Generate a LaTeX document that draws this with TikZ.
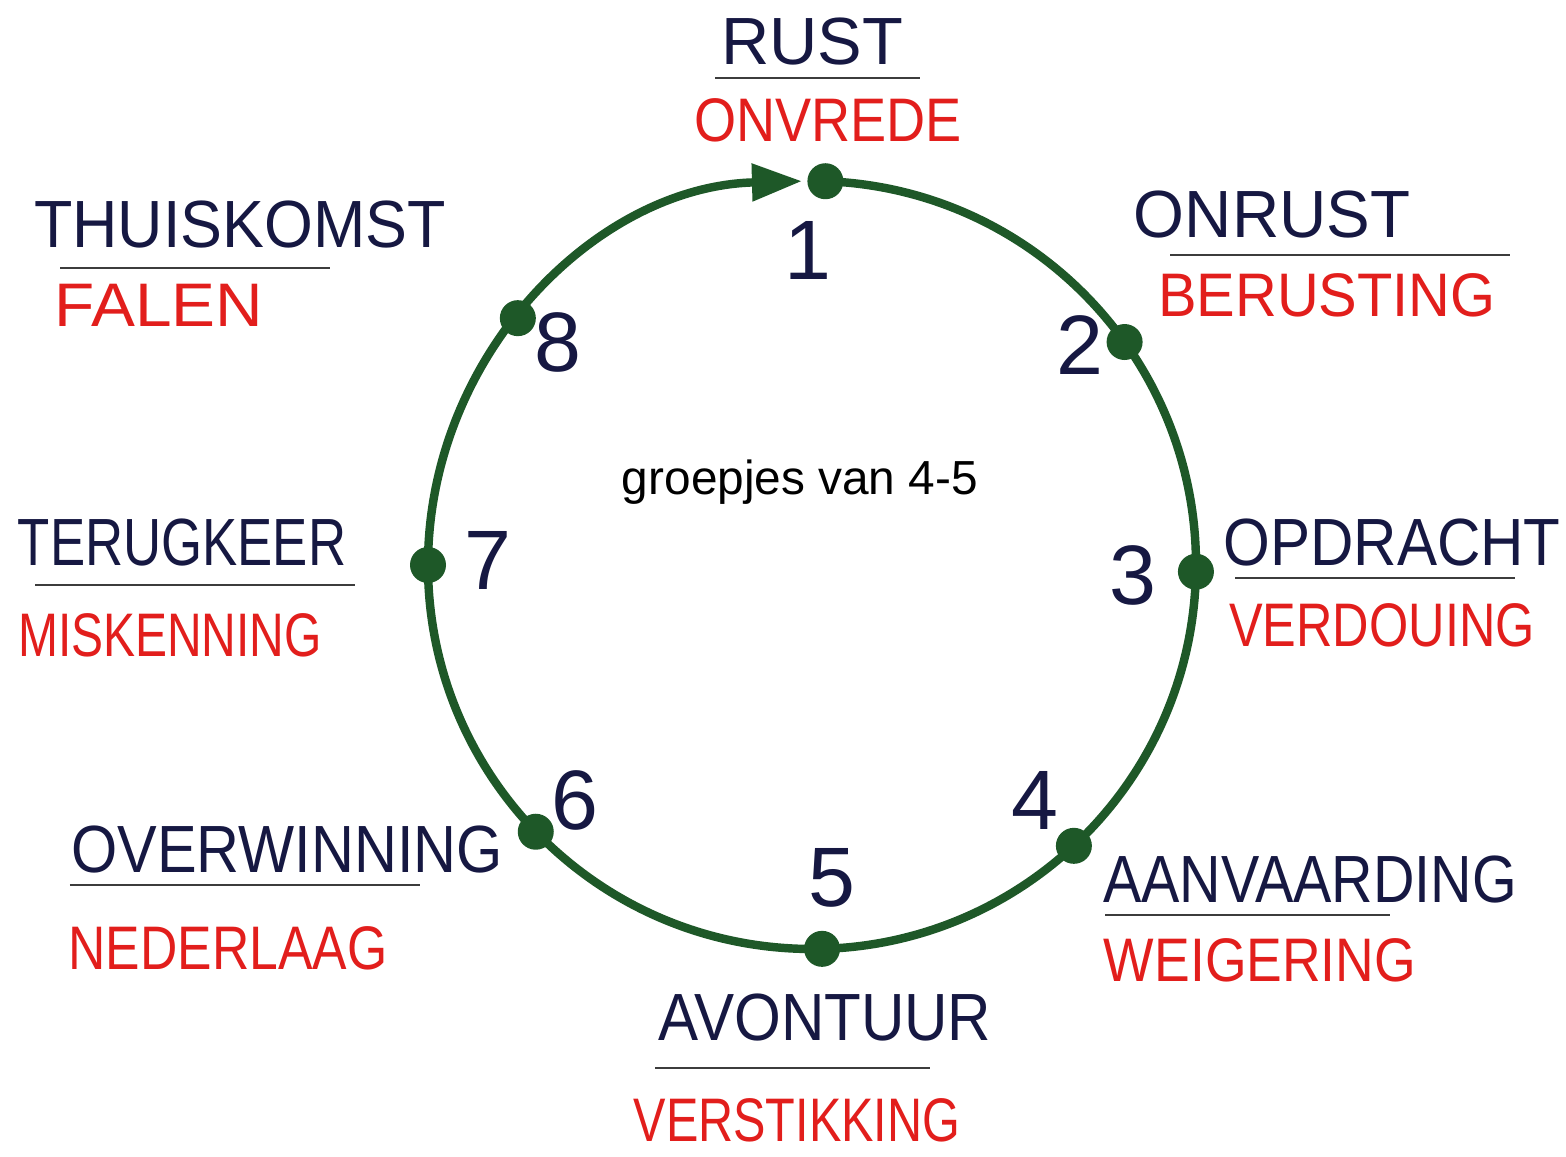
\documentclass[tikz,border=0pt]{standalone}
\usepackage{fontspec}
\setmainfont{Liberation Sans}
\usetikzlibrary{arrows.meta}
\definecolor{navyink}{RGB}{22,24,66}
\definecolor{redink}{RGB}{226,30,28}
\definecolor{greenink}{RGB}{30,88,40}
\definecolor{ruleink}{RGB}{60,60,60}
\tikzset{
  ring/.style={draw=greenink, line width=2.4pt},
  stop/.style={circle, fill=greenink, inner sep=0pt, minimum size=0.36cm},
  numlabel/.style={text=navyink, font=\fontsize{24}{24}\selectfont},
  phase/.style={text=navyink, font=\fontsize{19}{19}\selectfont},
  shadow/.style={text=redink, font=\fontsize{17.5}{17.5}\selectfont},
  underline/.style={draw=ruleink, line width=0.8pt}
}
\begin{document}
\begin{tikzpicture}
\useasboundingbox[fill=white] (0,0) rectangle (15.66,11.57);
%%%%%DRAW RING%%%%%%%%%
\coordinate (c) at (8.12,5.92);
\def\ringr{3.84}
\draw[ring, -{Triangle[length=0.5cm,width=0.36cm]}] ([shift={(88:\ringr)}]c)
  arc[start angle=88, end angle=-268.5, radius=\ringr];

%%%%%DRAW STOPS%%%%%%%%
\node[stop] (s1) at ([shift={(88:\ringr)}]c) {};
\node[stop] (s2) at ([shift={(35.5:\ringr)}]c) {};
\node[stop] (s3) at ([shift={(-1:\ringr)}]c) {};
\node[stop] (s4) at ([shift={(-47:\ringr)}]c) {};
\node[stop] (s5) at ([shift={(-88.5:\ringr)}]c) {};
\node[stop] (s6) at ([shift={(224:\ringr)}]c) {};
\node[stop] (s7) at ([shift={(180:\ringr)}]c) {};
\node[stop] (s8) at ([shift={(140:\ringr)}]c) {};

%%%%%DRAW NUMBERS%%%%%%
\node[numlabel] (n1) at (8.08,9.07) {1};
\node[numlabel] (n2) at (10.80,8.12) {2};
\node[numlabel] (n3) at (11.33,5.82) {3};
\node[numlabel] (n4) at (10.35,3.57) {4};
\node[numlabel] (n5) at (8.32,2.79) {5};
\node[numlabel] (n6) at (5.75,3.57) {6};
\node[numlabel] (n7) at (4.88,5.97) {7};
\node[numlabel] (n8) at (5.58,8.15) {8};

\node[font=\fontsize{13.6}{16}\selectfont] (task) at (8.00,6.75) {groepjes van 4-5};

%%%%%DRAW LABELS%%%%%%%
\node[phase] (rust) at (8.12,11.15) {RUST};
\draw[underline] (7.15,10.79) -- (9.20,10.79);
\node[shadow, xscale=0.88] (onvrede) at (8.28,10.37) {ONVREDE};

\node[phase, xscale=0.98] (onrust) at (12.72,9.42) {ONRUST};
\draw[underline] (11.70,9.02) -- (15.10,9.02);
\node[shadow, xscale=0.94] (berusting) at (13.27,8.62) {BERUSTING};

\node[phase, xscale=0.9] (opdracht) at (13.92,6.14) {OPDRACHT};
\draw[underline] (12.35,5.79) -- (15.15,5.79);
\node[shadow, xscale=0.82] (verdouing) at (13.82,5.32) {VERDOUING};

\node[phase, xscale=0.86] (aanvaarding) at (13.10,2.77) {AANVAARDING};
\draw[underline] (11.05,2.42) -- (13.90,2.42);
\node[shadow, xscale=0.87] (weigering) at (12.60,1.97) {WEIGERING};

\node[phase, xscale=0.9] (avontuur) at (8.25,1.39) {AVONTUUR};
\draw[underline] (6.55,0.89) -- (9.30,0.89);
\node[shadow, xscale=0.79] (verstikking) at (7.97,0.37) {VERSTIKKING};

\node[phase, xscale=0.89] (overwinning) at (2.87,3.07) {OVERWINNING};
\draw[underline] (0.70,2.72) -- (4.20,2.72);
\node[shadow, xscale=0.84] (nederlaag) at (2.28,2.09) {NEDERLAAG};

\node[phase, xscale=0.79] (terugkeer) at (1.82,6.14) {TERUGKEER};
\draw[underline] (0.35,5.72) -- (3.55,5.72);
\node[shadow, xscale=0.78] (miskenning) at (1.70,5.22) {MISKENNING};

\node[phase, xscale=0.94] (thuiskomst) at (2.40,9.32) {THUISKOMST};
\draw[underline] (0.60,8.89) -- (3.30,8.89);
\node[shadow, xscale=1.07] (falen) at (1.59,8.52) {FALEN};
\end{tikzpicture}
\end{document}
